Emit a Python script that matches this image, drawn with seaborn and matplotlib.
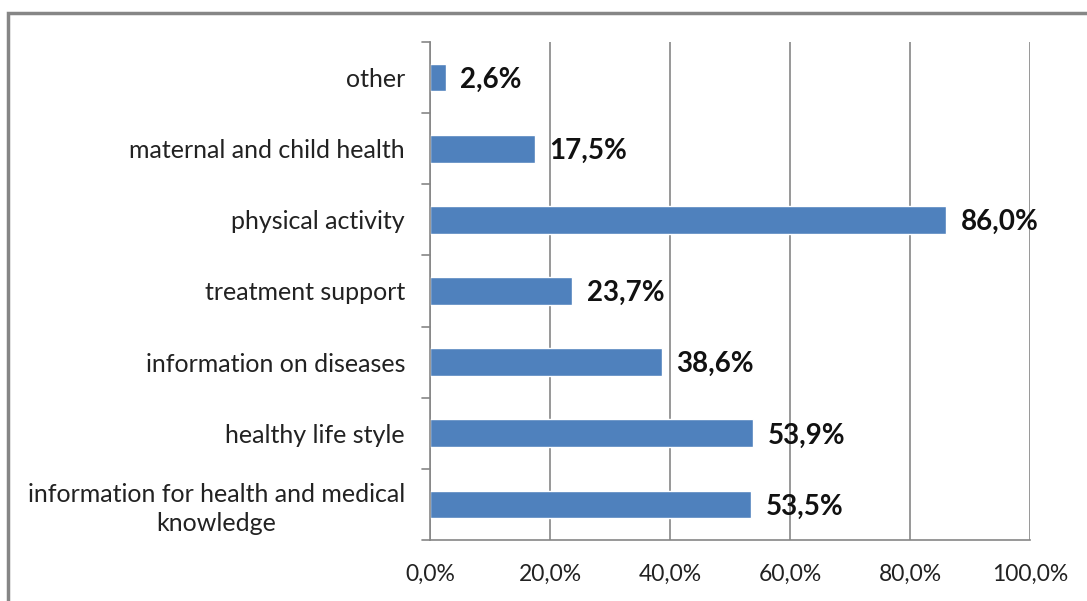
import matplotlib
matplotlib.use("Agg")
import matplotlib.pyplot as plt
import seaborn as sns
import pandas as pd
from matplotlib.patches import Rectangle

categories = [
    "other",
    "maternal and child health",
    "physical activity",
    "treatment support",
    "information on diseases",
    "healthy life style",
    "information for health and medical\nknowledge",
]
values = [2.6, 17.5, 86.0, 23.7, 38.6, 53.9, 53.5]
x_ticks = [0, 20, 40, 60, 80, 100]

df = pd.DataFrame({"topic": categories, "share": values})

sns.set_theme(style="white")
plt.rcParams["font.family"] = ["Lato", "DejaVu Sans"]

fig = plt.figure(figsize=(10.87, 6.01), dpi=100)
ax = fig.add_axes([430 / 1087, 1 - 540 / 601, 600 / 1087, 498 / 601])

sns.barplot(data=df, x="share", y="topic", order=categories, orient="h",
            color="#4F81BD", saturation=1, width=0.39, ax=ax, zorder=3)

ax.set_xlim(0, 100)
ax.set_ylim(len(categories) - 0.5, -0.5)
ax.set_xticks(x_ticks)
ax.set_xticklabels([f"{t:.1f}%".replace(".", ",") for t in x_ticks], fontsize=16.5, color="#222222")
ax.set_xlabel("")
ax.set_ylabel("")

# category labels centred on bars, ticks drawn between categories
ax.set_yticks(range(len(categories)))
ax.set_yticklabels(categories, fontsize=18, color="#222222",
                   multialignment="center", linespacing=1.3)
ax.tick_params(axis="y", length=0, pad=18)
for b in [i - 0.5 for i in range(len(categories) + 1)]:
    ax.plot([-1.35, 0], [b, b], color="#868686", lw=1.2, clip_on=False, zorder=4)
ax.tick_params(axis="x", length=8, width=1.2, color="#868686", direction="out", pad=9)

ax.grid(axis="x", color="#868686", lw=1.2, zorder=0)
for s in ["top", "right"]:
    ax.spines[s].set_visible(False)
for s in ["left", "bottom"]:
    ax.spines[s].set_color("#868686")
    ax.spines[s].set_linewidth(1.2)
    ax.spines[s].set_zorder(4)

for i, v in enumerate(values):
    ax.text(v + 2.4, i + 0.03, f"{v:.1f}%".replace(".", ","), va="center", ha="left",
            fontsize=20, fontweight="bold", color="#111111")

# outer chart frame
fig.patches.append(Rectangle((8 / 1087, -0.1), 1.2, 1 - 13 / 601 + 0.1,
                             transform=fig.transFigure, fill=False,
                             edgecolor="#868686", lw=2.5))

fig.savefig("out.png", dpi=100, facecolor="white")
